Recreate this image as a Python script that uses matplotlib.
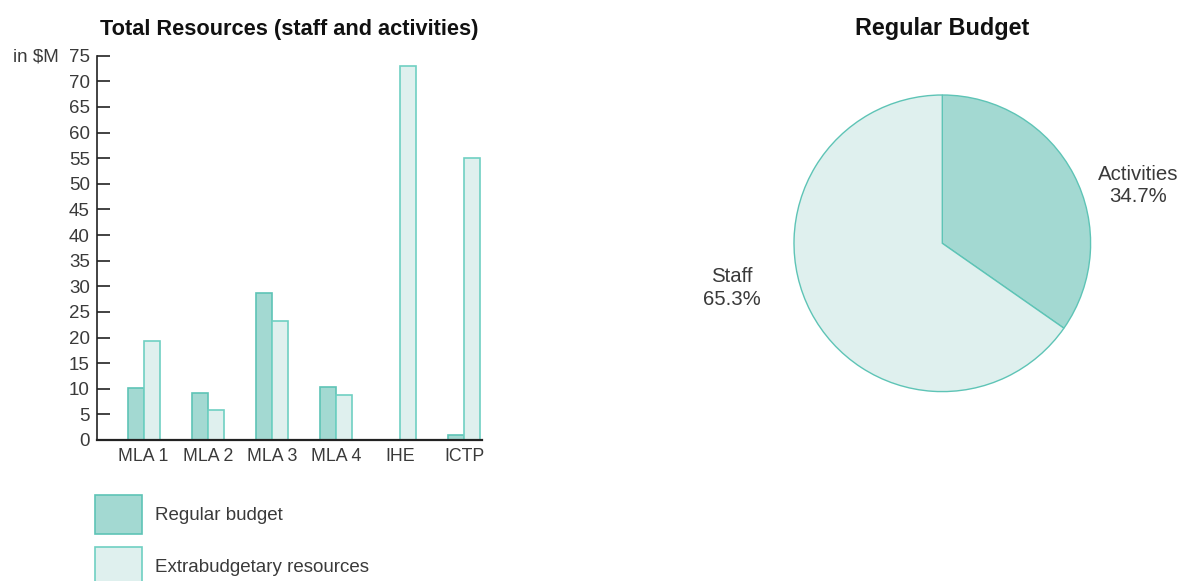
import matplotlib
matplotlib.use("Agg")
import matplotlib.pyplot as plt
from matplotlib.patches import Patch
import numpy as np

plt.rcParams['font.family'] = ['Liberation Sans', 'DejaVu Sans']

categories = ["MLA 1", "MLA 2", "MLA 3", "MLA 4", "IHE", "ICTP"]
regular_budget = [10.1, 9.1, 28.6, 10.3, 0.0, 1.0]
extrabudgetary = [19.3, 5.9, 23.2, 8.7, 73.0, 55.1]
yticks = list(range(0, 80, 5))

pie_labels = ["Activities", "Staff"]
pie_values = [34.7, 65.3]

series_names = ["Regular budget", "Extrabudgetary resources"]

REG_FILL = "#a3d9d2"
REG_EDGE = "#5ec4b6"
EXT_FILL = "#dff0ee"
EXT_EDGE = "#6fd0c2"
TXT = "#3a3a3a"
FS = 13.5

W, H = 1180, 581
fig = plt.figure(figsize=(W / 100, H / 100), dpi=100)

# bar axes
left, right, top, bottom = 96.7, 481.7, 55.7, 440
ax = fig.add_axes([left / W, 1 - bottom / H, (right - left) / W, (bottom - top) / H])
x = np.arange(len(categories))
bw = 0.25
ax.bar(x - bw / 2, regular_budget, bw, color=REG_FILL, edgecolor=REG_EDGE, linewidth=1.2, zorder=2)
ax.bar(x + bw / 2, extrabudgetary, bw, color=EXT_FILL, edgecolor=EXT_EDGE, linewidth=1.2, zorder=2)
ax.set_xlim(-0.73, 5.27)
ax.set_ylim(0, 75)
ax.set_yticks(yticks)
ax.set_xticks(x)
ax.set_xticklabels(categories)
ax.tick_params(axis='x', length=0, pad=6, labelsize=12.8, labelcolor=TXT)
ax.tick_params(axis='y', direction='in', length=9, width=1.2, color="#222222",
               pad=5, labelsize=FS, labelcolor=TXT)
for s in ("top", "right"):
    ax.spines[s].set_visible(False)
ax.spines["left"].set_color("#222222")
ax.spines["bottom"].set_color("#222222")
ax.spines["left"].set_linewidth(1.2)
ax.spines["bottom"].set_linewidth(1.6)
ax.spines["bottom"].set_zorder(3)
ax.set_title("Total Resources (staff and activities)", fontsize=15.7, fontweight='bold',
             color="#111111", pad=15)
fig.text(13 / W, 1 - 57 / H, "in $M", fontsize=FS, color=TXT, va='center', ha='left')

handles = [Patch(facecolor=REG_FILL, edgecolor=REG_EDGE, linewidth=1.2),
           Patch(facecolor=EXT_FILL, edgecolor=EXT_EDGE, linewidth=1.2)]
fig.legend(handles, series_names, loc='upper left',
           bbox_to_anchor=(95 / W, 1 - 495 / H), bbox_transform=fig.transFigure,
           frameon=False, fontsize=FS, handlelength=2.5, handleheight=2.82,
           labelspacing=0.69, handletextpad=0.69, borderpad=0, borderaxespad=0,
           labelcolor=TXT)

# pie axes
cx, cy, r = 942.3, 243.3, 148.3
pax = fig.add_axes([(cx - r) / W, 1 - (cy + r) / H, 2 * r / W, 2 * r / H])
wedges, texts = pax.pie(pie_values,
                        labels=[f"{n}\n{v}%" for n, v in zip(pie_labels, pie_values)],
                        colors=[REG_FILL, EXT_FILL], startangle=90, counterclock=False,
                        wedgeprops=dict(edgecolor=REG_EDGE, linewidth=1.0),
                        textprops=dict(fontsize=14.7, color=TXT, linespacing=1.25))
label_pos = [(1.32, 0.39), (-1.418, -0.30)]
for t, p in zip(texts, label_pos):
    t.set_position(p)
    t.set_ha('center')
    t.set_va('center')
pax.set_xlim(-1, 1)
pax.set_ylim(-1, 1)
pax.set_aspect('equal')
fig.text(cx / W, 1 - 29 / H, "Regular Budget", fontsize=16.8, fontweight='bold',
         color="#111111", ha='center', va='center')

fig.savefig("out.png", dpi=100)
